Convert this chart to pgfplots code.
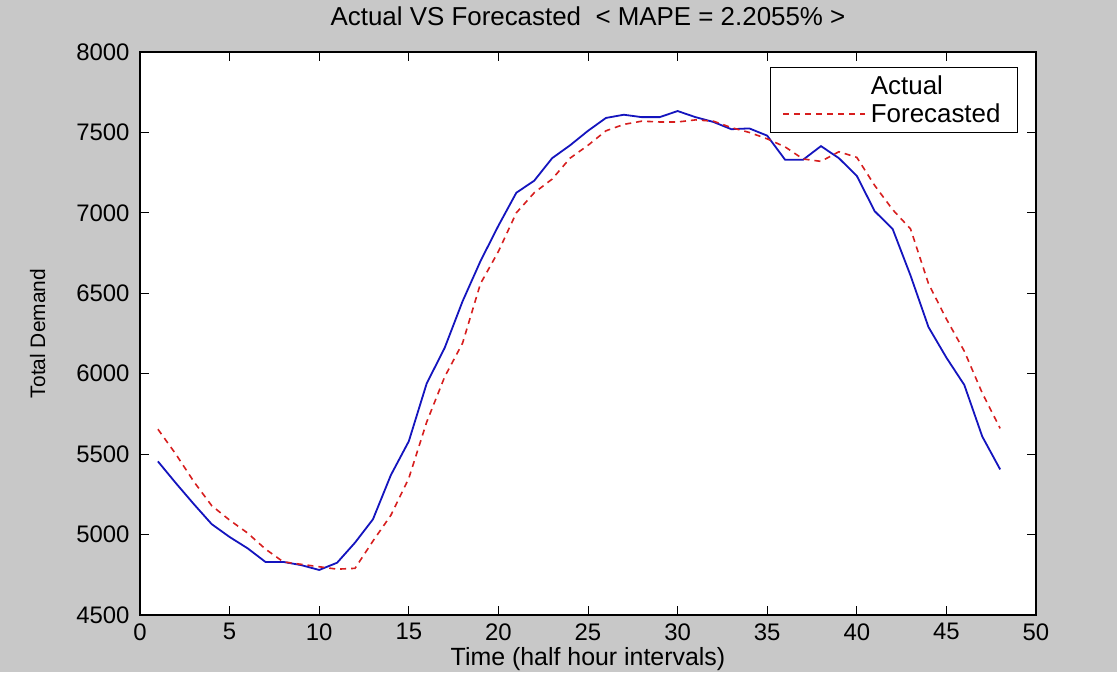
\documentclass[border=0pt]{standalone}
\usepackage{fontspec}
\setmainfont{Liberation Sans}
\usepackage{pgfplots}
\pgfplotsset{compat=1.18}
\definecolor{figgray}{RGB}{200,200,200}
\definecolor{mblue}{RGB}{20,20,190}
\definecolor{mred}{RGB}{215,30,30}
\begin{document}
\begin{tikzpicture}
\fill[figgray] (-140bp,-57bp) rectangle (977bp,615bp);
\begin{axis}[
  at={(0,0)}, anchor=south west,
  scale only axis, width=896bp, height=563bp,
  xmin=0, xmax=50, ymin=4500, ymax=8000,
  xtick={0,5,...,50}, ytick={4500,5000,...,8000},
  tick align=inside, major tick length=9bp, tick pos=both,
  axis background/.style={fill=white},
  axis line style={line width=1.3bp, black},
  tick style={line width=1bp, black},
  /pgf/number format/assume math mode=true,
  /pgf/number format/1000 sep={},
  scaled y ticks=false,
  ticklabel style={font=\fontsize{24}{28}\selectfont},
  yticklabel style={xshift=-7bp},
  xticklabel style={yshift=-5bp},
  title={Actual VS Forecasted\ \ < MAPE = 2.2055\% >},
  title style={font=\fontsize{26}{30}\selectfont, at={(axis description cs:0.5,1)}, anchor=base, yshift=21bp},
  xlabel={Time (half hour intervals)},
  xlabel style={font=\fontsize{25}{30}\selectfont, at={(axis description cs:0.5,0)}, anchor=base, yshift=-50bp},
  ylabel={Total Demand},
  ylabel style={font=\fontsize{21}{25}\selectfont, at={(axis description cs:-0.106,0.5)}, anchor=base},
  legend style={at={(axis description cs:1,1)}, anchor=north east, xshift=-18bp, yshift=-15bp,
    draw=black, line width=1bp, fill=white, font=\fontsize{26}{30}\selectfont,
    cells={anchor=west}, inner xsep=12bp, inner ysep=6bp, row sep=4bp,
    nodes={inner xsep=5bp, inner ysep=2bp}},
  legend image code/.code={\draw[#1] (0bp,0bp) -- (82bp,0bp);},
]
\addplot[mblue, line width=1.8bp, forget plot] table {
x y
1 5455
2 5320
3 5190
4 5065
5 4985
6 4915
7 4830
8 4830
9 4810
10 4780
11 4825
12 4950
13 5095
14 5370
15 5580
16 5940
17 6160
18 6450
19 6700
20 6920
21 7125
22 7200
23 7340
24 7420
25 7510
26 7590
27 7610
28 7595
29 7595
30 7633
31 7595
32 7565
33 7520
34 7525
35 7480
36 7330
37 7330
38 7415
39 7340
40 7230
41 7010
42 6900
43 6610
44 6290
45 6100
46 5930
47 5610
48 5405
};
\addlegendimage{draw opacity=0}
\addlegendentry{Actual}
\addplot[mred, line width=1.6bp, dash pattern=on 6bp off 5bp] table {
x y
1 5655
2 5500
3 5330
4 5180
5 5090
6 5010
7 4910
8 4830
9 4815
10 4800
11 4785
12 4790
13 4960
14 5120
15 5350
16 5700
17 5980
18 6190
19 6560
20 6760
21 7000
22 7125
23 7210
24 7340
25 7420
26 7510
27 7550
28 7570
29 7565
30 7565
31 7578
32 7570
33 7530
34 7500
35 7460
36 7410
37 7335
38 7320
39 7380
40 7345
41 7170
42 7020
43 6900
44 6560
45 6340
46 6140
47 5880
48 5660
};
\addlegendentry{Forecasted}
\end{axis}
\end{tikzpicture}
\end{document}
